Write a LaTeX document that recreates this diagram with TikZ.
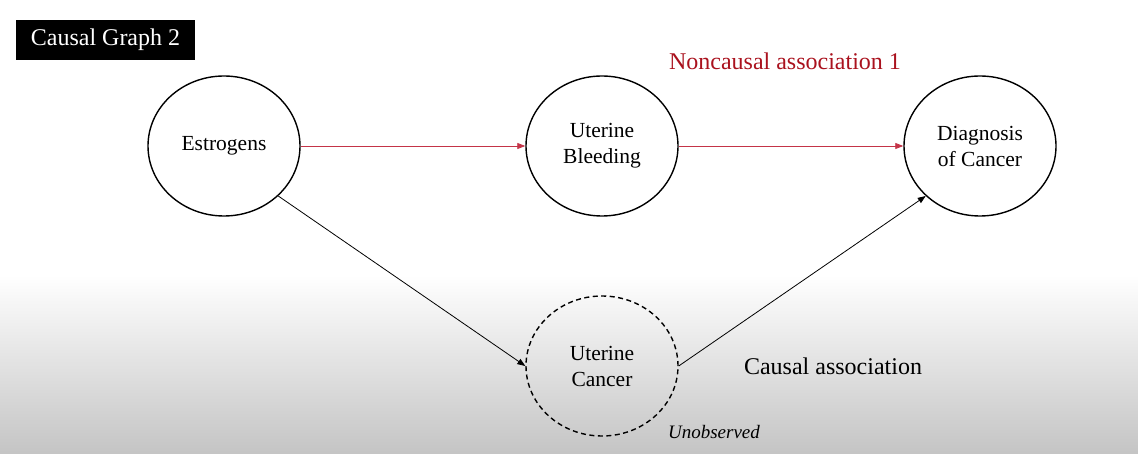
\documentclass[tikz,border=0pt]{standalone}
\usepackage{fontspec}
\setmainfont{Liberation Serif}
\usetikzlibrary{shapes.geometric,arrows.meta}
\definecolor{arrred}{RGB}{196,52,72}
\definecolor{txtred}{RGB}{170,18,30}
\tikzset{
  var/.style={ellipse,draw,line width=1.4pt,minimum width=152pt,minimum height=140pt,inner sep=0pt,align=center,font=\fontsize{21.5}{26}\selectfont},
  hidden/.style={var,dashed,dash pattern=on 5pt off 3.5pt},
  redarr/.style={draw=arrred,line width=0.8pt,-{Triangle[length=8pt,width=6pt]},arrred},
  blkarr/.style={draw=black,line width=0.8pt,-{Triangle[length=8pt,width=6pt]}},
}
\begin{document}
\begin{tikzpicture}[x=1pt,y=-1pt]
\useasboundingbox (0,0) rectangle (1138,454);
\fill[white] (0,0) rectangle (1138,276);
\shade[top color=white,bottom color=black!23] (0,275) rectangle (1138,454);
\node[fill=black,text=white,minimum width=179pt,minimum height=40pt,inner sep=0pt,font=\fontsize{24}{28}\selectfont] (title) at (105.5,40) {Causal Graph 2};
\node[var] (E) at (224,146) {Estrogens};
\node[var] (UB) at (602,146) {Uterine\\Bleeding};
\node[var] (D) at (980,146) {Diagnosis\\of Cancer};
\node[hidden] (UC) at (602,366) {Uterine\\Cancer};
\node[text=txtred,font=\fontsize{24}{28}\selectfont] (nc) at (785,61) {Noncausal association 1};
\node[font=\fontsize{24}{28}\selectfont] (ca) at (833,366) {Causal association};
\node[font=\fontsize{19}{22}\itshape] (uo) at (714,432) {Unobserved};
\draw[redarr] (E.east) -- (UB.west);
\draw[redarr] (UB.east) -- (D.west);
\draw[blkarr] (E.south east) -- (UC.west);
\draw[blkarr] (UC.east) -- (D.south west);
\end{tikzpicture}
\end{document}
